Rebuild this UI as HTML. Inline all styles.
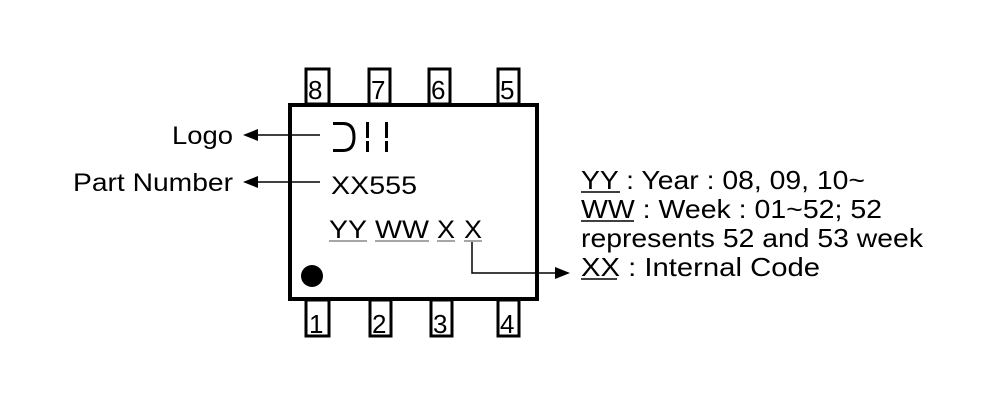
<!DOCTYPE html>
<html><head><style>html,body{margin:0;padding:0;background:#fff}</style></head><body>
<svg width="1007" height="411" xmlns="http://www.w3.org/2000/svg" font-family="Liberation Sans, Arial, sans-serif" font-size="25" fill="#000">
<rect width="1007" height="411" fill="#fff"/>
<g fill="#fff" stroke="#000" stroke-width="3">
<rect x="306" y="69" width="23" height="35"/>
<rect x="369" y="69" width="21" height="35"/>
<rect x="429" y="69" width="21" height="35"/>
<rect x="498" y="69" width="21" height="35"/>
<rect x="306" y="300" width="23" height="36"/>
<rect x="370" y="300" width="21" height="36"/>
<rect x="431" y="300" width="21" height="36"/>
<rect x="498" y="300" width="21" height="36"/>
</g>
<rect x="290" y="105" width="247" height="194" fill="#fff" stroke="#000" stroke-width="4"/>
<g font-size="26">
<text x="308" y="99">8</text><text x="371" y="99">7</text><text x="431" y="99">6</text><text x="500" y="99">5</text>
<text x="309" y="333">1</text><text x="372" y="333">2</text><text x="433" y="333">3</text><text x="500" y="333">4</text>
</g>
<path d="M333 123.5 H343 Q354 123.5 354 137 Q354 150.5 343 150.5 H333" fill="none" stroke="#000" stroke-width="3"/>
<rect x="366" y="122" width="3" height="16" /><rect x="366" y="141" width="3" height="11"/>
<rect x="385" y="122" width="3" height="16" /><rect x="385" y="141" width="3" height="11"/>
<circle cx="312" cy="276" r="11"/>
<text x="172" y="144" textLength="61" lengthAdjust="spacingAndGlyphs">Logo</text>
<text x="73" y="191" textLength="160" lengthAdjust="spacingAndGlyphs">Part Number</text>
<line x1="252" y1="135" x2="320" y2="135" stroke="#000" stroke-width="1.5"/>
<polygon points="243,135 258,129 258,141"/>
<line x1="252" y1="182" x2="320" y2="182" stroke="#000" stroke-width="1.5"/>
<polygon points="243,182 258,176 258,188"/>
<text x="331" y="194" textLength="86" lengthAdjust="spacingAndGlyphs">XX555</text>
<text x="329" y="238" textLength="38" lengthAdjust="spacingAndGlyphs">YY</text>
<text x="375" y="238" textLength="54" lengthAdjust="spacingAndGlyphs">WW</text>
<text x="437" y="238" textLength="18" lengthAdjust="spacingAndGlyphs">X</text>
<text x="464" y="238" textLength="18" lengthAdjust="spacingAndGlyphs">X</text>
<g stroke="#888" stroke-width="1.5">
<line x1="329" y1="241" x2="367" y2="241"/><line x1="375" y1="241" x2="429" y2="241"/>
<line x1="437" y1="241" x2="455" y2="241"/><line x1="464" y1="241" x2="482" y2="241"/>
</g>
<polyline points="472,242 472,273 556,273" fill="none" stroke="#000" stroke-width="1.5"/>
<polygon points="570,273 555,267 555,279"/>
<g font-size="26">
<text x="581" y="189" textLength="284" lengthAdjust="spacingAndGlyphs">YY : Year : 08, 09, 10~</text>
<text x="581" y="218" textLength="301" lengthAdjust="spacingAndGlyphs">WW : Week : 01~52; 52</text>
<text x="581" y="247" textLength="342" lengthAdjust="spacingAndGlyphs">represents 52 and 53 week</text>
<text x="581" y="276" textLength="239" lengthAdjust="spacingAndGlyphs">XX :  Internal Code</text>
</g>
<g stroke="#000" stroke-width="1.5">
<line x1="581" y1="192" x2="620" y2="192"/><line x1="581" y1="221" x2="634" y2="221"/><line x1="581" y1="279" x2="617" y2="279"/>
</g>
</svg>
</body></html>
